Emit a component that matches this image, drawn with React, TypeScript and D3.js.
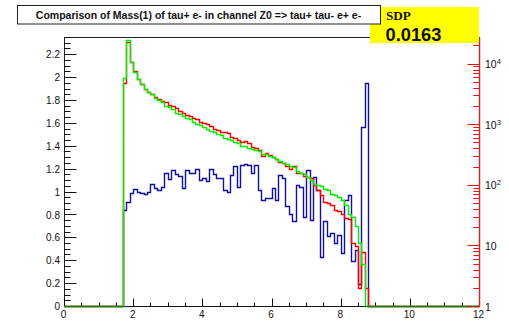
import { useEffect, useRef } from 'react';
import * as d3 from 'd3';

// Histogram binning: 0.1 wide bins, first filled bin starts at 1.7
const BIN_LOW = 1.7;
const BIN_W = 0.1;
const X_MAX = 12;

const RED = [
  1.95, 2.31, 2.13, 2.05, 1.98, 1.94, 1.9, 1.87, 1.85, 1.83, 1.81, 1.79, 1.78, 1.76, 1.75, 1.73,
  1.7, 1.69, 1.67, 1.66, 1.64, 1.63, 1.61, 1.6, 1.59, 1.57, 1.55, 1.54, 1.52, 1.52, 1.51, 1.48,
  1.47, 1.45, 1.43, 1.44, 1.42, 1.39, 1.38, 1.36, 1.31, 1.34, 1.32, 1.3, 1.28, 1.26, 1.25, 1.22,
  1.2, 1.22, 1.16, 1.16, 1.14, 1.13, 1.115, 1.06, 1.01, 0.97, 0.91, 0.9, 0.885, 0.84, 0.83, 0.8,
  0.77, 0.76, 0.55, 0.52, 0.157, 0.47, 0.155,
];

const GREEN = [
  1.99, 2.32, 2.13, 2.04, 1.98, 1.94, 1.9, 1.87, 1.85, 1.82, 1.8, 1.78, 1.75, 1.74, 1.72, 1.69,
  1.68, 1.66, 1.64, 1.63, 1.61, 1.59, 1.58, 1.56, 1.55, 1.53, 1.52, 1.5, 1.49, 1.47, 1.46, 1.45,
  1.43, 1.42, 1.4, 1.4, 1.38, 1.37, 1.36, 1.35, 1.33, 1.33, 1.31, 1.3, 1.28, 1.27, 1.25, 1.24,
  1.22, 1.21, 1.18, 1.16, 1.15, 1.13, 1.1, 1.07, 1.06, 1.05, 1.02, 1.01, 0.98, 0.97, 0.95, 0.93,
  0.885, 0.8, 0.78, 0.695, 0.55, 0.37,
];

const BLUE = [
  0.84, 0.91, 0.99, 1.02, 1.0, 0.99, 0.98, 1.0, 1.07, 1.03, 1.015, 1.04, 1.16, 1.11, 1.19, 1.155,
  1.14, 1.03, 1.19, 1.165, 1.16, 1.195, 1.1, 1.117, 1.09, 1.2, 1.155, 1.117, 1.117, 1.01, 1.0,
  1.146, 1.22, 1.04, 1.23, 1.24, 1.23, 1.16, 1.23, 1.015, 0.93, 0.94, 0.94, 1.03, 0.93, 1.146,
  1.12, 0.87, 0.8, 0.74, 1.06, 1.04, 0.78, 1.19, 0.75, 1.13, 1.015, 0.43, 0.74, 0.61, 0.64, 0.55,
  0.62, 0.46, 0.93, 0.97, 0.39, 0.49, 0.19, 1.56, 1.95,
];

const X_TICKS = [0, 2, 4, 6, 8, 10, 12];
const Y_TICKS = [0, 0.2, 0.4, 0.6, 0.8, 1, 1.2, 1.4, 1.6, 1.8, 2, 2.2];
const LOG_DECADES = [0, 1, 2, 3, 4];

const TITLE = 'Comparison of Mass(1) of tau+ e- in channel Z0 => tau+ tau- e+ e-';
const STAT_NAME = 'SDP';
const STAT_VALUE = '0.0163';

const W = 509;
const H = 321;
const FRAME = { left: 64.5, right: 479.5, top: 37.5, bottom: 306.5 };
const FONT = '"Liberation Sans", Arial, Helvetica, sans-serif';

// snap to pixel centres so 1px strokes stay crisp
const snap = (v: number) => Math.round(v - 0.5) + 0.5;

export default function App() {
  const svgRef = useRef<SVGSVGElement>(null);

  useEffect(() => {
    const svg = d3.select(svgRef.current);
    svg.selectAll('*').remove();
    svg.attr('width', W).attr('height', H).style('font-family', FONT);

    const x = d3.scaleLinear().domain([0, X_MAX]).range([FRAME.left, FRAME.right]);
    const y = d3.scaleLinear().domain([0, 2.35]).range([FRAME.bottom, FRAME.top]);
    const yLog = d3.scaleLog().domain([1, Math.pow(10, 4.44)]).range([FRAME.bottom, FRAME.top]);

    // frame -------------------------------------------------------------
    svg.append('rect')
      .attr('x', FRAME.left).attr('y', FRAME.top)
      .attr('width', FRAME.right - FRAME.left).attr('height', FRAME.bottom - FRAME.top)
      .attr('fill', 'white').attr('stroke', '#222').attr('stroke-width', 1);

    // left axis ticks
    const left = svg.append('g');
    d3.range(0, 2.3501, 0.05).forEach((v, i) => {
      const major = i % 4 === 0;
      left.append('line')
        .attr('x1', FRAME.left).attr('x2', FRAME.left + (major ? 12 : 6))
        .attr('y1', snap(y(v))).attr('y2', snap(y(v)))
        .attr('stroke', '#111');
    });
    Y_TICKS.forEach((v) => {
      left.append('text')
        .attr('x', 60).attr('y', y(v) + 3.6)
        .attr('text-anchor', 'end').attr('font-size', 10).attr('fill', '#111')
        .text(d3.format('~g')(v));
    });

    // bottom axis ticks
    const bottom = svg.append('g');
    d3.range(0, X_MAX + 0.001, 0.5).forEach((v, i) => {
      const major = i % 4 === 0;
      bottom.append('line')
        .attr('x1', snap(x(v))).attr('x2', snap(x(v)))
        .attr('y1', FRAME.bottom).attr('y2', FRAME.bottom - (major ? 8 : 4))
        .attr('stroke', '#111');
    });
    X_TICKS.forEach((v) => {
      bottom.append('text')
        .attr('x', x(v) - 1).attr('y', 317.5)
        .attr('text-anchor', 'middle').attr('font-size', 10).attr('fill', '#111')
        .text(v);
    });

    // histograms ---------------------------------------------------------
    const stepPoints = (vals: number[]) => {
      const pts: [number, number][] = [[0, 0]];
      vals.forEach((v, i) => pts.push([BIN_LOW + i * BIN_W, v]));
      pts.push([BIN_LOW + vals.length * BIN_W, 0]);
      pts.push([X_MAX, 0]);
      return pts;
    };
    const line = d3.line<[number, number]>()
      .x((d) => snap(x(d[0])))
      .y((d) => snap(y(d[1])))
      .curve(d3.curveStepAfter);

    const series = [
      { vals: BLUE, color: '#10109c' },
      { vals: RED, color: '#ff0000' },
      { vals: GREEN, color: '#00ee00' },
    ];
    series.forEach((s) => {
      svg.append('path')
        .attr('d', line(stepPoints(s.vals)))
        .attr('fill', 'none')
        .attr('stroke', s.color)
        .attr('stroke-width', 1.4);
    });

    // darken baseline where histograms sit on the axis
    svg.append('line')
      .attr('x1', FRAME.left).attr('x2', FRAME.right)
      .attr('y1', FRAME.bottom).attr('y2', FRAME.bottom)
      .attr('stroke', '#000').attr('stroke-opacity', 0.45);

    // right log axis (red) -----------------------------------------------
    const right = svg.append('g');
    const logTicks: { v: number; major: boolean }[] = [];
    for (let d = 0; d <= 4; d++) {
      for (let m = 1; m <= 9; m++) {
        const v = m * Math.pow(10, d);
        if (v <= yLog.domain()[1]) logTicks.push({ v, major: m === 1 });
      }
    }
    logTicks.forEach((t) => {
      right.append('line')
        .attr('x1', FRAME.right).attr('x2', FRAME.right - (t.major ? 12 : 6))
        .attr('y1', snap(yLog(t.v))).attr('y2', snap(yLog(t.v)))
        .attr('stroke', '#ff0000');
    });
    right.append('line')
      .attr('x1', FRAME.right).attr('x2', FRAME.right)
      .attr('y1', FRAME.top).attr('y2', FRAME.bottom)
      .attr('stroke', '#c03030').attr('stroke-width', 1.5);

    LOG_DECADES.forEach((d) => {
      const t = right.append('text')
        .attr('x', 485).attr('y', yLog(Math.pow(10, d)) + 4)
        .attr('font-size', 10.5).attr('fill', '#111');
      if (d === 0) t.text('1');
      else if (d === 1) t.text('10');
      else {
        t.append('tspan').text('10');
        t.append('tspan').attr('dy', -4).attr('font-size', 7.5).text(d);
      }
    });

    // stat box (yellow) --------------------------------------------------
    svg.append('rect')
      .attr('x', 370).attr('y', 7).attr('width', 109).attr('height', 36)
      .attr('fill', '#ffff00');
    svg.append('text')
      .attr('x', 386).attr('y', 20)
      .attr('font-family', '"Liberation Serif", "Times New Roman", serif')
      .attr('font-weight', 'bold').attr('font-size', 13.2).attr('fill', '#111')
      .text(STAT_NAME);
    svg.append('text')
      .attr('x', 385.5).attr('y', 41.3)
      .attr('font-weight', 'bold').attr('font-size', 18.3).attr('fill', '#111')
      .text(STAT_VALUE);

    // title box ----------------------------------------------------------
    svg.append('rect')
      .attr('x', 17.5).attr('y', 5.5).attr('width', 363).attr('height', 18.5)
      .attr('fill', 'white').attr('stroke', '#222').attr('stroke-width', 1);
    svg.append('text')
      .attr('x', 198.5).attr('y', 19)
      .attr('text-anchor', 'middle')
      .attr('font-weight', 'bold').attr('font-size', 10.5).attr('fill', '#111')
      .text(TITLE);
  }, []);

  return (
    <div style={{ position: 'absolute', left: 0, top: 0 }}>
      <svg ref={svgRef} style={{ display: 'block' }} />
    </div>
  );
}
